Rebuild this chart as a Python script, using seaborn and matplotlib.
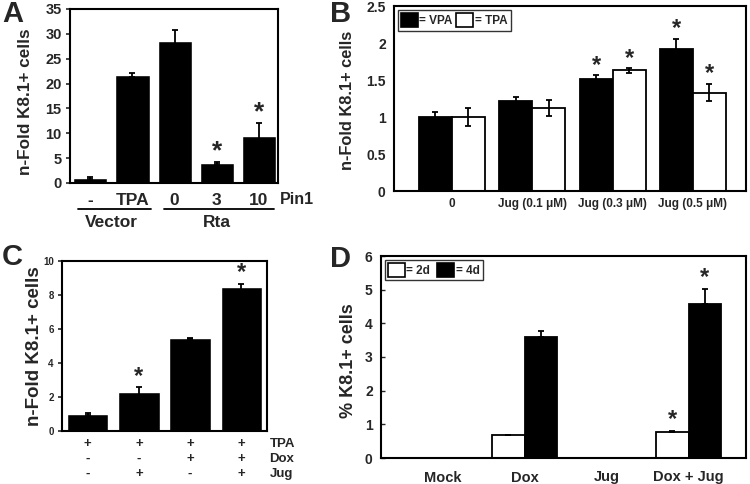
import numpy as np
import pandas as pd
import matplotlib
matplotlib.use("Agg")
import matplotlib.pyplot as plt
from matplotlib.ticker import FuncFormatter
from matplotlib.patches import Patch
from matplotlib.lines import Line2D
import seaborn as sns

# ---------------- data ----------------
A_labels = ["-", "TPA", "0", "3", "10"]
A_vals = [1.0, 21.7, 28.6, 4.0, 9.4]
A_err = [0.2, 0.4, 2.2, 0.2, 2.6]
A_star = [False, False, False, True, True]

B_cats = ["0", "Jug (0.1 \u03bcM)", "Jug (0.3 \u03bcM)", "Jug (0.5 \u03bcM)"]
B_vpa = [1.0, 1.22, 1.52, 1.92]
B_vpa_err = [0.07, 0.05, 0.05, 0.14]
B_tpa = [1.0, 1.12, 1.63, 1.33]
B_tpa_err = [0.12, 0.11, 0.03, 0.12]
B_star = [False, False, True, True]

C_vals = [1.0, 2.3, 5.45, 8.45]
C_err = [0.03, 0.27, 0.05, 0.2]
C_star = [False, True, False, True]
C_rows = {"TPA": ["+", "+", "+", "+"],
          "Dox": ["-", "-", "+", "+"],
          "Jug": ["-", "+", "-", "+"]}

D_cats = ["Mock", "Dox", "Jug", "Dox + Jug"]
D_2d = [0.0, 0.67, 0.0, 0.78]
D_2d_err = [0.0, 0.02, 0.0, 0.03]
D_4d = [0.0, 3.6, 0.0, 4.56]
D_4d_err = [0.0, 0.16, 0.0, 0.47]
D_star = [False, False, False, True]

# ---------------- style ----------------
sns.set_style("white")
plt.rcParams['font.family'] = ['Liberation Sans', 'DejaVu Sans']
plt.rcParams['font.weight'] = 'bold'
plt.rcParams['axes.labelweight'] = 'bold'
plt.rcParams['axes.edgecolor'] = 'black'
plt.rcParams['axes.linewidth'] = 1.5

fig = plt.figure(figsize=(7.5, 4.84), dpi=100)
W, H = 750, 484


def add_ax(l, t, r, b):
    return fig.add_axes([l / W, 1 - b / H, (r - l) / W, (b - t) / H])


axA = add_ax(70, 9, 278, 183)
axB = add_ax(394, 6, 746, 191)
axC = add_ax(62, 261, 267, 431)
axD = add_ax(381, 256, 746, 458)

fmt = FuncFormatter(lambda v, p: f"{v:g}")


def errbars(ax, patches, errs, upper_only=False):
    for p, e in zip(patches, errs):
        if e <= 0:
            continue
        x = p.get_x() + p.get_width() / 2
        h = p.get_height()
        yerr = [[0], [e]] if upper_only else e
        ax.errorbar(x, h, yerr=yerr, fmt='none', ecolor='black',
                    elinewidth=1.3, capsize=2.2, capthick=1.3, zorder=3)


def stars(ax, patches, errs, flags, off=7, size=17):
    for p, e, f in zip(patches, errs, flags):
        if f:
            x = p.get_x() + p.get_width() / 2
            ax.annotate("*", (x, p.get_height() + e), xytext=(0, off),
                        textcoords='offset points', ha='center', va='center',
                        fontsize=size, fontweight='bold')


# ---------------- Panel A ----------------
dfA = pd.DataFrame({"cond": A_labels, "val": A_vals})
sns.barplot(data=dfA, x="cond", y="val", color="black", width=0.81,
            errorbar=None, ax=axA, saturation=1)
pA = axA.patches
errbars(axA, pA, A_err)
stars(axA, pA, A_err, A_star, off=8, size=19)
axA.set_ylim(0, 35)
axA.set_xlim(-0.48, 4.45)
axA.set_yticks(range(0, 36, 5))
axA.tick_params(axis='y', labelsize=10.5, length=3, width=1.2, left=True, pad=3)
axA.tick_params(axis='x', labelsize=12.5, length=0, pad=7)
axA.set_xlabel("")
axA.set_ylabel("n-Fold K8.1+ cells", fontsize=12.3)
axA.yaxis.set_label_coords(-0.178, 0.47)
tA = axA.get_xaxis_transform()
axA.text(4.5, -0.092, "Pin1", transform=tA, ha='left', va='center',
         fontsize=11.5, fontweight='bold')
for (x0, x1, xc, lab) in [(-0.29, 1.43, 0.5, "Vector"), (1.74, 4.36, 3.0, "Rta")]:
    axA.add_line(Line2D([x0, x1], [-0.149, -0.149], transform=tA, color='black',
                        lw=1.3, clip_on=False))
    axA.text(xc, -0.225, lab, transform=tA, ha='center', va='center',
             fontsize=12.5, fontweight='bold')

# ---------------- Panel B ----------------
dfB = pd.DataFrame({"cat": B_cats * 2,
                    "val": B_vpa + B_tpa,
                    "grp": ["VPA"] * 4 + ["TPA"] * 4})
sns.barplot(data=dfB, x="cat", y="val", hue="grp", hue_order=["VPA", "TPA"],
            palette={"VPA": "black", "TPA": "white"}, width=0.82,
            edgecolor="black", linewidth=1.3, errorbar=None, ax=axB,
            saturation=1, legend=False)
cB = axB.containers
errbars(axB, cB[0], B_vpa_err)
errbars(axB, cB[1], B_tpa_err)
stars(axB, cB[0], B_vpa_err, B_star)
stars(axB, cB[1], B_tpa_err, B_star)
axB.set_ylim(0, 2.5)
axB.set_xlim(-0.72, 3.66)
axB.set_yticks(np.arange(0, 2.51, 0.5))
axB.yaxis.set_major_formatter(fmt)
axB.tick_params(axis='y', labelsize=10, length=0, pad=6)
axB.tick_params(axis='x', labelsize=8.5, length=0, pad=5)
axB.set_xlabel("")
axB.set_ylabel("n-Fold K8.1+ cells", fontsize=11.8)
axB.yaxis.set_label_coords(-0.111, 0.49)
hB = [Patch(facecolor='black', edgecolor='black', lw=1.2),
      Patch(facecolor='white', edgecolor='black', lw=1.2)]
legB = axB.legend(hB, ["= VPA", "= TPA"], loc='upper left', ncol=2,
                  frameon=True, fancybox=False, edgecolor='black',
                  fontsize=8.5, handlelength=1.4, handleheight=1.5,
                  handletextpad=0.15, columnspacing=0.3, borderpad=0.3,
                  borderaxespad=0.3)
legB.get_frame().set_linewidth(1.0)

# ---------------- Panel C ----------------
dfC = pd.DataFrame({"cond": ["c1", "c2", "c3", "c4"], "val": C_vals})
sns.barplot(data=dfC, x="cond", y="val", color="black", width=0.81,
            errorbar=None, ax=axC, saturation=1)
pC = axC.patches
errbars(axC, pC, C_err)
stars(axC, pC, C_err, C_star, off=8, size=17)
axC.set_ylim(0, 10)
axC.set_xlim(-0.5, 3.5)
axC.set_yticks(range(0, 11, 2))
axC.set_xticks(range(4))
axC.set_xticklabels([""] * 4)
axC.tick_params(axis='y', labelsize=7, length=3, width=1.2, left=True, pad=3)
axC.tick_params(axis='x', length=0)
axC.set_xlabel("")
axC.set_ylabel("n-Fold K8.1+ cells", fontsize=13.5)
axC.yaxis.set_label_coords(-0.093, 0.5)
tC = axC.get_xaxis_transform()
for ry, (name, marks) in zip([-0.078, -0.166, -0.254], C_rows.items()):
    for i, m in enumerate(marks):
        axC.text(i, ry, m, transform=tC, ha='center', va='center',
                 fontsize=9.5, fontweight='bold')
    axC.text(3.55, ry, name, transform=tC, ha='left', va='center',
             fontsize=9.5, fontweight='bold')

# ---------------- Panel D ----------------
dfD = pd.DataFrame({"cat": D_cats * 2,
                    "val": D_2d + D_4d,
                    "grp": ["2d"] * 4 + ["4d"] * 4})
sns.barplot(data=dfD, x="cat", y="val", hue="grp", hue_order=["2d", "4d"],
            palette={"2d": "white", "4d": "black"}, width=0.8,
            edgecolor="black", linewidth=1.3, errorbar=None, ax=axD,
            saturation=1, legend=False)
cD = axD.containers
errbars(axD, cD[0], D_2d_err, upper_only=True)
errbars(axD, cD[1], D_4d_err, upper_only=True)
stars(axD, cD[0], D_2d_err, D_star, off=8)
stars(axD, cD[1], D_4d_err, D_star, off=8)
axD.set_ylim(0, 6)
axD.set_xlim(-0.75, 3.7)
axD.set_yticks(range(0, 7))
axD.tick_params(axis='y', labelsize=10, length=3, width=1.0, direction='in',
                left=True, pad=6)
axD.tick_params(axis='x', labelsize=10.5, length=0, pad=9)
axD.set_xlabel("")
axD.set_ylabel("% K8.1+ cells", fontsize=13)
axD.yaxis.set_label_coords(-0.065, 0.48)
hD = [Patch(facecolor='white', edgecolor='black', lw=1.2),
      Patch(facecolor='black', edgecolor='black', lw=1.2)]
legD = axD.legend(hD, ["= 2d", "= 4d"], loc='upper left', ncol=2,
                  frameon=True, fancybox=False, edgecolor='black',
                  fontsize=8.5, handlelength=1.4, handleheight=1.4,
                  handletextpad=0.15, columnspacing=0.6, borderpad=0.3,
                  borderaxespad=0.3)
legD.get_frame().set_linewidth(1.0)

for ax in (axA, axB, axC, axD):
    for s in ax.spines.values():
        s.set_visible(True)
        s.set_color('black')
        s.set_linewidth(1.5)

# panel letters
for lab, x, y in [("A", 13, 14), ("B", 341, 14), ("C", 12, 257), ("D", 341, 259)]:
    fig.text(x / W, 1 - y / H, lab, ha='center', va='center',
             fontsize=21, fontweight='bold')

fig.savefig("out.png", dpi=100)
